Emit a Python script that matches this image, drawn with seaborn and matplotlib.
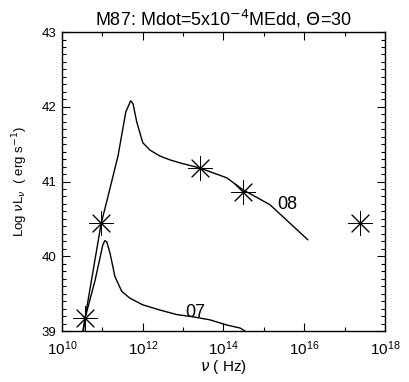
import numpy as np
import pandas as pd
import matplotlib
matplotlib.use("Agg")
import matplotlib.pyplot as plt
import matplotlib.ticker as mticker
import seaborn as sns

# log10(nu) / log10(nu L_nu)
logn_08 = [10.50, 10.97, 11.13, 11.39, 11.58, 11.70, 11.76, 11.85, 12.00, 12.18,
           12.43, 12.67, 12.92, 13.42, 14.08, 14.48, 15.15, 15.57, 16.09]
logl_08 = [38.95, 40.44, 40.78, 41.35, 41.93, 42.08, 42.04, 41.80, 41.52, 41.42,
           41.34, 41.29, 41.25, 41.18, 41.05, 40.89, 40.69, 40.48, 40.22]

logn_07 = [10.52, 10.57, 10.82, 11.01, 11.06, 11.11, 11.19, 11.31, 11.48, 11.68,
           12.00, 12.43, 12.84, 13.24, 13.66, 14.08, 14.41, 14.53]
logl_07 = [38.95, 39.17, 39.68, 40.15, 40.21, 40.19, 40.04, 39.73, 39.53, 39.44,
           39.35, 39.28, 39.22, 39.19, 39.15, 39.08, 39.04, 39.00]

# observed points (asterisks)
obs_logn = [10.57, 10.97, 13.42, 14.48, 17.38]
obs_logl = [39.17, 40.44, 41.18, 40.86, 40.44]

sns.set_style("ticks")
plt.rcParams['font.family'] = ['Liberation Sans', 'DejaVu Sans']
plt.rcParams['text.color'] = 'black'
plt.rcParams['axes.labelcolor'] = 'black'
plt.rcParams['xtick.color'] = 'black'
plt.rcParams['ytick.color'] = 'black'
plt.rcParams['axes.edgecolor'] = 'black'

d08 = pd.DataFrame({'nu': 10 ** np.array(logn_08), 'L': logl_08})
d07 = pd.DataFrame({'nu': 10 ** np.array(logn_07), 'L': logl_07})
dobs = pd.DataFrame({'nu': 10 ** np.array(obs_logn), 'L': obs_logl})

fig = plt.figure(figsize=(4.09, 3.82), dpi=100)
ax = fig.add_axes([0.1516, 0.1335, 0.7897, 0.7826])

sns.lineplot(data=d08, x='nu', y='L', sort=False, estimator=None,
             color='black', lw=1.0, ax=ax)
sns.lineplot(data=d07, x='nu', y='L', sort=False, estimator=None,
             color='black', lw=1.0, ax=ax)
sns.scatterplot(data=dobs, x='nu', y='L', marker=(8, 2, 0), s=300,
                color='black', linewidth=0.7, ax=ax, zorder=5)

ax.text(10 ** 15.57, 40.69, '08', fontsize=13, ha='center', va='center')
ax.text(10 ** 13.29, 39.25, '07', fontsize=13, ha='center', va='center')

ax.set_xscale('log')
ax.set_xlim(1e10, 1e18)
ax.set_ylim(39, 43)
ax.xaxis.set_major_locator(mticker.FixedLocator([1e10, 1e12, 1e14, 1e16, 1e18]))
ax.xaxis.set_minor_locator(mticker.FixedLocator([1e11, 1e13, 1e15, 1e17]))
ax.xaxis.set_major_formatter(mticker.LogFormatterMathtext())
ax.xaxis.set_minor_formatter(mticker.NullFormatter())
ax.yaxis.set_major_locator(mticker.MultipleLocator(1))
ax.yaxis.set_minor_locator(mticker.MultipleLocator(0.1))
ax.tick_params(which='both', direction='in', top=True, right=True, width=0.8)
ax.tick_params(which='major', length=6)
ax.tick_params(which='minor', length=3)
ax.tick_params(axis='x', labelsize=11, pad=6)
ax.tick_params(axis='y', labelsize=9.5, pad=4)
for s in ax.spines.values():
    s.set_linewidth(1.0)

ax.set_xlabel(r'$\nu$ ( Hz)', fontsize=11, labelpad=0)
ax.set_ylabel(r'Log $\nu$L$_\nu$  ( erg s$^{-1}$)', fontsize=9.5, labelpad=8)
ax.set_title(r'M87: Mdot=5x10$^{-4}$MEdd, $\Theta$=30', fontsize=13, pad=5)

fig.savefig('out.png', dpi=100)
